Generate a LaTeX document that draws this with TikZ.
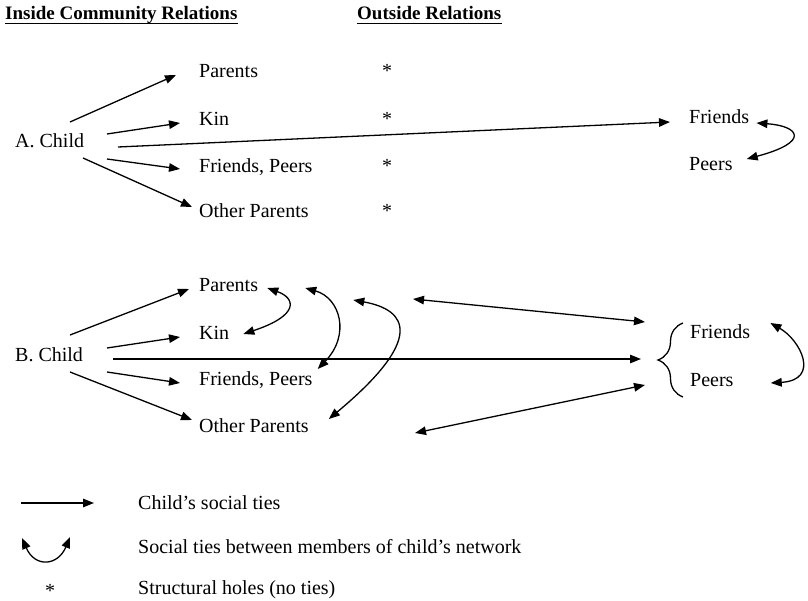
\documentclass[tikz,border=0pt]{standalone}
\usepackage{fontspec}
\setmainfont{Liberation Serif}
\usetikzlibrary{arrows.meta,calc,decorations.pathreplacing}

\begin{document}
\begin{tikzpicture}[x=1pt,y=-1pt,
  every node/.style={inner sep=0pt, font=\fontsize{20}{24}\selectfont},
  lbl/.style={anchor=base west},
  star/.style={anchor=base},
  head/.style={anchor=base west, font=\fontsize{19}{23}\selectfont\bfseries},
  tie/.style={-{Triangle[length=11pt,width=8.5pt]}, line width=1.3pt},
  link/.style={{Triangle[length=11pt,width=8.5pt]}-{Triangle[length=11pt,width=8.5pt]}, line width=1.3pt},
  bracket/.style={line width=1.3pt, decorate, decoration={brace, amplitude=25pt}},
]
\useasboundingbox (0,0) rectangle (808,601);

% column headings
\node[head] (hin) at (5,20) {Inside Community Relations};
\node[head] (hout) at (357,20) {Outside Relations};
\draw[line width=1.3pt] ($(hin.base west)+(0,3.5)$) -- ($(hin.base east)+(0,3.5)$);
\draw[line width=1.3pt] ($(hout.base west)+(0,3.5)$) -- ($(hout.base east)+(0,3.5)$);

% ---------- A: ties of the child only ----------
\node[lbl] (achild) at (15,148) {A. Child};
\node[lbl] (apar) at (199,78) {Parents};
\node[lbl] (akin) at (199,126) {Kin};
\node[lbl] (afp) at (199,173) {Friends, Peers};
\node[lbl] (aop) at (199,218) {Other Parents};
\node[star] (s1) at (387,78) {*};
\node[star] (s2) at (387,126) {*};
\node[star] (s3) at (387,173) {*};
\node[star] (s4) at (387,218) {*};
\node[lbl] (afr) at (689,124) {Friends};
\node[lbl] (ape) at (689,171) {Peers};

\draw[tie] ($(achild.base west)+(55,-26)$) -- ($(apar.base west)+(-23,-3)$);
\draw[tie] ($(achild.base west)+(92,-14)$) -- ($(akin.base west)+(-19,-3)$);
\draw[tie] ($(achild.base west)+(103,-1)$) -- ($(afr.base west)+(-19,-2)$);
\draw[tie] ($(achild.base west)+(92,11)$) -- ($(afp.base west)+(-19,-4)$);
\draw[tie] ($(achild.base west)+(68,10)$) -- ($(aop.base west)+(-7,-11)$);
\draw[link] ($(afr.base east)+(7,-1)$) .. controls +(43,3) and +(64,-17) .. ($(ape.base east)+(14,-12)$);

% ---------- B: closed network ----------
\node[lbl] (bchild) at (15,361) {B. Child};
\node[lbl] (bpar) at (199,292) {Parents};
\node[lbl] (bkin) at (199,339) {Kin};
\node[lbl] (bfp) at (199,385) {Friends, Peers};
\node[lbl] (bop) at (199,432) {Other Parents};
\node[lbl] (bfr) at (690,338) {Friends};
\node[lbl] (bpe) at (690,386) {Peers};
\coordinate (btip) at (658,360);
\draw[bracket] ($(bpe.base west)+(-7,11)$) -- ($(bfr.base west)+(-7,-15)$);

\draw[tie] ($(bchild.base west)+(55,-26)$) -- ($(bpar.base west)+(-10,-3)$);
\draw[tie] ($(bchild.base west)+(92,-13)$) -- ($(bkin.base west)+(-19,-2)$);
\draw[tie] ($(bchild.base west)+(98,-2)$) -- ($(btip)+(-17,-1)$);
\draw[tie] ($(bchild.base west)+(92,11)$) -- ($(bfp.base west)+(-19,-2)$);
\draw[tie] ($(bchild.base west)+(55,11)$) -- ($(bop.base west)+(-7,-12)$);

\coordinate (otop) at (413,299);
\coordinate (obot) at (415,433);
\draw[link] (otop) -- ($(bfr.base west)+(-45,-16)$);
\draw[link] (obot) -- ($(bpe.base west)+(-45,-1)$);

\draw[link] ($(bpar.base east)+(9,-4)$) .. controls +(28,10) and +(57,-19) .. ($(bkin.base east)+(14,-5)$);
\draw[link] ($(bpar.base east)+(47,-4)$) .. controls +(35,10) and +(33,-34) .. ($(bfp.base east)+(5,-16)$);
\draw[link] ($(bpar.base east)+(95,8)$) .. controls +(55,10) and +(96,-80) .. ($(bop.base east)+(20,-13)$);
\draw[link] ($(bfr.base east)+(20,-15)$) .. controls +(30,17) and +(50,-3) .. ($(bpe.base east)+(37,-3)$);

% ---------- key ----------
\node[lbl] (l1) at (138,509) {Child’s social ties};
\node[lbl] (l2) at (138,553) {Social ties between members of child’s network};
\node[lbl] (l3) at (138,594) {Structural holes (no ties)};
\draw[tie] ($(l1.base west)+(-117,-6)$) -- ($(l1.base west)+(-44,-6)$);
\draw[link] ($(l2.base west)+(-116,-15)$) .. controls +(13,30) and +(-12,29) .. ($(l2.base west)+(-68,-16)$);
\node[star] (l0) at (50,597) {*};
\end{tikzpicture}
\end{document}
